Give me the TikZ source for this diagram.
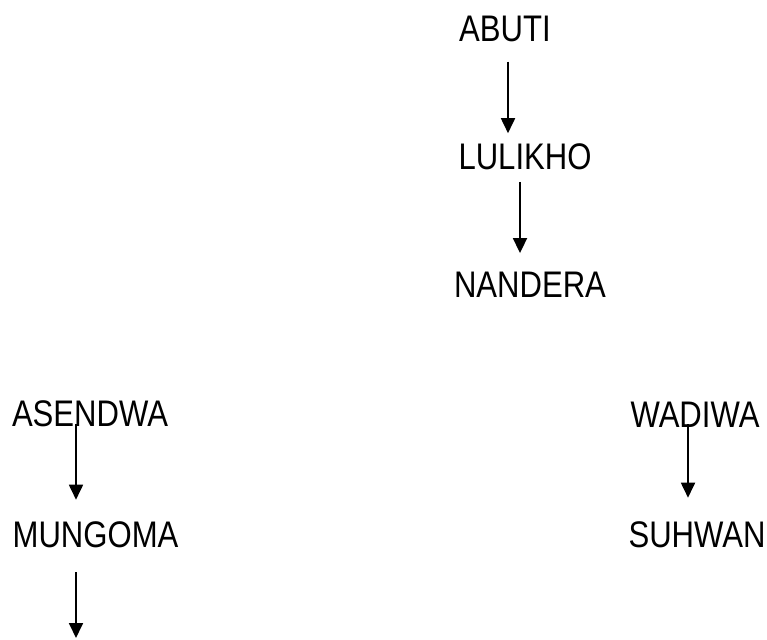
\documentclass[tikz,border=0pt]{standalone}
\usepackage{fontspec}
\setmainfont{Liberation Sans}[FakeStretch=0.84]
\usetikzlibrary{arrows.meta}

\begin{document}
\begin{tikzpicture}[x=1pt,y=-1pt,
  lbl/.style={inner sep=0pt, font=\fontsize{37}{37}\selectfont},
  arr/.style={line width=1.8pt, -{Triangle[width=14pt,length=15pt]}}]
\useasboundingbox (0,0) rectangle (767,639);
\node[lbl](ab) at (505,28.5){ABUTI};
\node[lbl](lu) at (525,156.5){LULIKHO};
\node[lbl](na) at (530,285){NANDERA};
\node[lbl](as) at (90,414){ASENDWA};
\node[lbl](mu) at (95.5,535){MUNGOMA};
\node[lbl](wa) at (695,414.5){WADIWA};
\node[lbl](su) at (697,535){SUHWAN};
\coordinate (mend) at (76,638);
\draw[arr] ([shift={(3,20)}]ab.south) -- ([shift={(-17,-10)}]lu.north);
\draw[arr] ([shift={(-5,12)}]lu.south) -- ([shift={(-10,-19)}]na.north);
\draw[arr] ([shift={(-14,-3)}]as.south) -- ([shift={(-19.5,-22)}]mu.north);
\draw[arr] ([shift={(-19.5,24)}]mu.south) -- (mend);
\draw[arr] ([shift={(-7,-3)}]wa.south) -- ([shift={(-9,-24)}]su.north);
\end{tikzpicture}
\end{document}
